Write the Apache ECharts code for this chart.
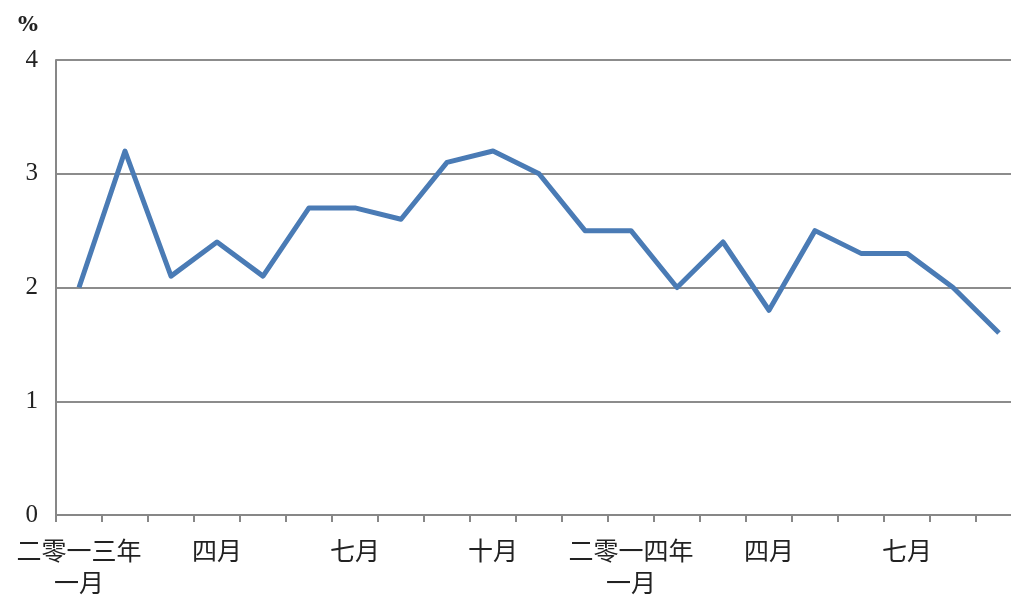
<!DOCTYPE html>
<html><head><meta charset="utf-8">
<script src="https://cdn.jsdelivr.net/npm/echarts@6/dist/echarts.min.js"></script>
<style>html,body{margin:0;padding:0;background:#fff;overflow:hidden;width:1011px;height:598px}#c{width:1022px;height:598px}</style>
</head><body><div id="c"></div>
<script>
var categories = ['二零一三年\n一月','二月','三月','四月','五月','六月','七月','八月','九月','十月','十一月','十二月',
  '二零一四年\n一月','二月','三月','四月','五月','六月','七月','八月','九月'];
var values = [2.0,3.2,2.1,2.4,2.1,2.7,2.7,2.6,3.1,3.2,3.0,2.5,2.5,2.0,2.4,1.8,2.5,2.3,2.3,2.0,1.6];
var yTicks = [0,1,2,3,4];
var chart = echarts.init(document.getElementById('c'));
chart.setOption({
  animation:false,
  graphic:[{type:'text',left:18,top:15,style:{text:'%',font:'bold 21px "DejaVu Serif", serif',fill:'#222'}}],
  grid:{left:56,right:0,top:60,bottom:83},
  xAxis:{type:'category',data:categories,boundaryGap:true,
    axisLine:{lineStyle:{color:'#878787',width:2}},
    axisTick:{show:true,interval:0,length:7,lineStyle:{color:'#878787',width:2}},
    axisLabel:{interval:2,color:'#222',fontSize:25,lineHeight:32,margin:19,fontFamily:'"Noto Sans CJK SC", sans-serif'}},
  yAxis:{type:'value',min:yTicks[0],max:yTicks[yTicks.length-1],interval:1,
    axisLine:{show:true,lineStyle:{color:'#878787',width:2}},
    axisTick:{show:false},
    splitLine:{lineStyle:{color:'#8c8c8c',width:1.8}},
    axisLabel:{color:'#222',fontSize:25,margin:18,fontFamily:'"Liberation Serif","DejaVu Serif",serif'}},
  series:[{type:'line',data:values,symbol:'none',lineStyle:{color:'#4a7bb5',width:5,join:'round'}}]
});
</script></body></html>
